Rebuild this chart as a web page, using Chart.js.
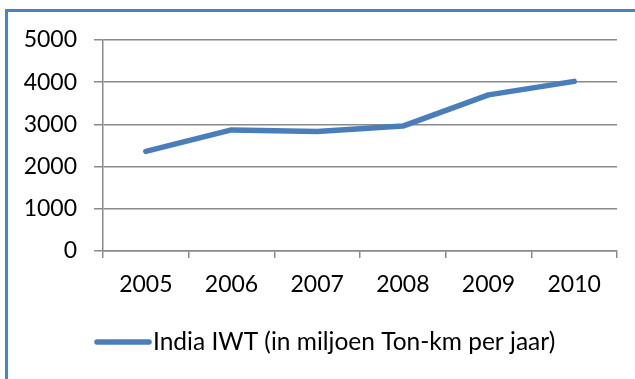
<!DOCTYPE html>
<html>
<head>
<meta charset="utf-8">
<script src="https://cdn.jsdelivr.net/npm/chart.js@4.4.1/dist/chart.umd.min.js"></script>
<style>
  html, body { margin: 0; padding: 0; background: #fff; overflow: hidden; }
  #wrap { position: relative; width: 635px; height: 379px; }
  #frame { position: absolute; left: 5px; top: 9px; width: 700px; height: 450px; border: 3px solid #4f81bd; box-sizing: border-box; }
  #chart { position: absolute; left: 0; top: 0; }
</style>
</head>
<body>
<div id="wrap">
  <div id="frame"></div>
  <canvas id="chart" width="635" height="379"></canvas>
</div>
<script>
const years = ['2005', '2006', '2007', '2008', '2009', '2010'];
const iwtValues = [2360, 2870, 2830, 2960, 3700, 4020];
const seriesName = 'India IWT (in miljoen Ton-km per jaar)';
const yTicks = [0, 1000, 2000, 3000, 4000, 5000];

const lineBlue = '#4a7ebb';
const gridGrey = '#8a8a8a';
const labelFont = { family: 'Lato', size: 23 };

// legend: short thick line followed by the series name
const legendLine = {
  id: 'legendLine',
  afterDraw(chart) {
    const ctx = chart.ctx;
    const ds = chart.data.datasets[0];
    ctx.save();
    ctx.strokeStyle = ds.borderColor;
    ctx.lineWidth = 5.5;
    ctx.lineCap = 'round';
    ctx.beginPath();
    ctx.moveTo(97, 342);
    ctx.lineTo(149, 342);
    ctx.stroke();
    ctx.fillStyle = '#000';
    ctx.font = '24.5px Lato';
    ctx.textBaseline = 'middle';
    ctx.fillText(ds.label, 153, 342);
    ctx.restore();
  }
};

const ctx = document.getElementById('chart').getContext('2d');
const myChart = new Chart(ctx, {
  type: 'line',
  data: {
    labels: years,
    datasets: [{
      label: seriesName,
      data: iwtValues,
      borderColor: lineBlue,
      backgroundColor: lineBlue,
      borderWidth: 5.5,
      borderCapStyle: 'round',
      borderJoinStyle: 'round',
      pointRadius: 0,
      tension: 0
    }]
  },
  options: {
    responsive: false,
    animation: false,
    layout: { padding: { left: 0, top: 40, right: 18, bottom: 78 } },
    plugins: {
      legend: { display: false },
      tooltip: { enabled: false }
    },
    scales: {
      x: {
        offset: true,
        afterFit(scale) { scale.height = 50; },
        grid: {
          offset: true,
          drawOnChartArea: false,
          tickLength: 7,
          color: gridGrey,
          lineWidth: 1.5
        },
        border: { color: gridGrey, width: 1.5 },
        ticks: { color: '#000', font: labelFont, padding: 13, maxRotation: 0 }
      },
      y: {
        min: 0,
        max: 5000,
        afterFit(scale) { scale.width = 103; },
        afterBuildTicks(scale) { scale.ticks = yTicks.map(v => ({ value: v })); },
        grid: { color: gridGrey, lineWidth: 1.5, tickLength: 9 },
        border: { color: gridGrey, width: 1.5 },
        ticks: {
          color: '#000',
          font: labelFont,
          padding: 17,
          callback: v => String(v)
        }
      }
    }
  },
  plugins: [legendLine]
});
</script>
</body>
</html>
